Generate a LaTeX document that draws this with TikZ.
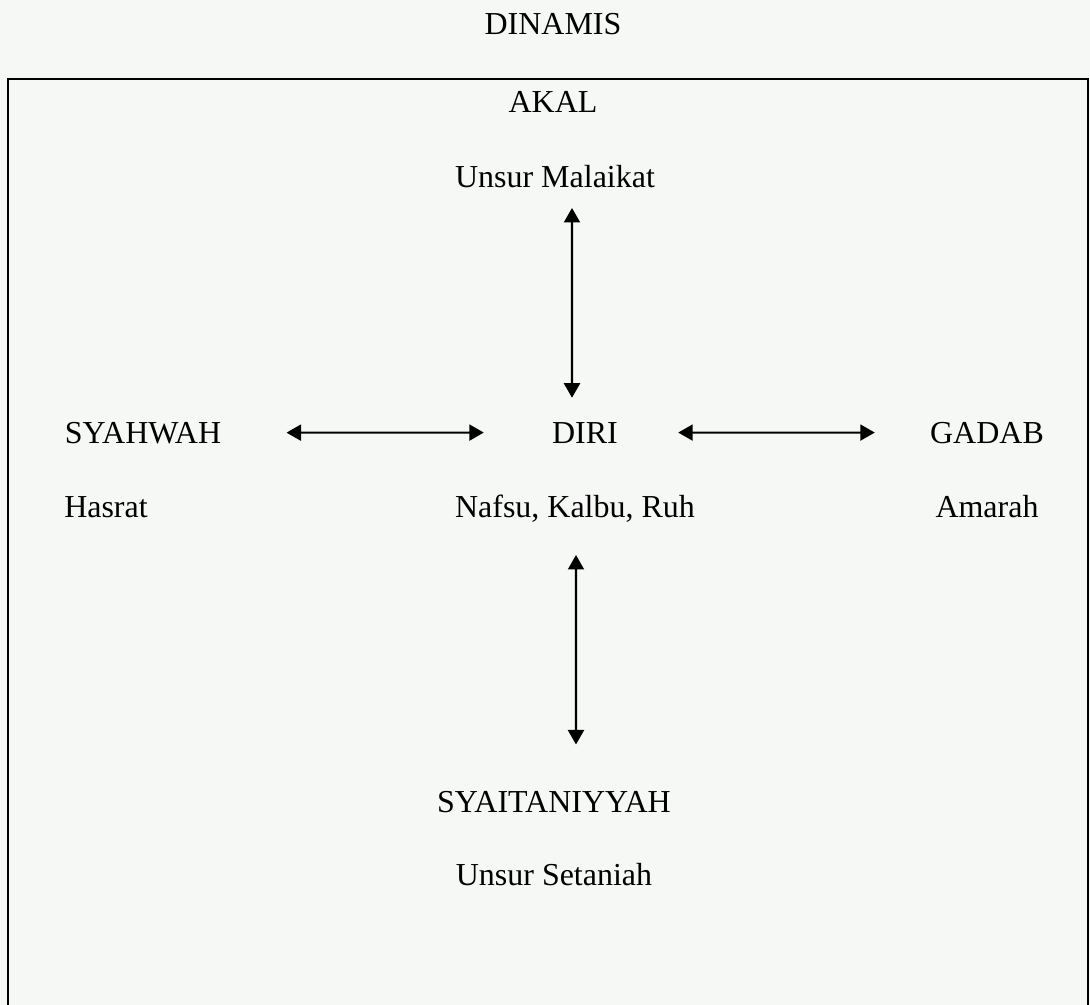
\documentclass[tikz,border=0pt]{standalone}
\usepackage{fontspec}
\setmainfont{Liberation Serif}
\usetikzlibrary{calc, arrows.meta}
\definecolor{paper}{RGB}{246,248,246}

\begin{document}
\begin{tikzpicture}[x=0.02cm,y=-0.02cm,
    lbl/.style={inner sep=0pt,anchor=base,font=\fontsize{18.2}{22}\selectfont},
    dbl/.style={{Triangle[length=0.29cm,width=0.32cm]}-{Triangle[length=0.29cm,width=0.32cm]},line width=1.2pt}]
    \fill[paper] (0,0) rectangle (1090,1005);
    \useasboundingbox (0,0) rectangle (1090,1005);
    \draw[line width=1.2pt] (8,1005)--(8,79)--(1088,79)--(1088,1005);
    \node[lbl] (dinamis) at (553,34) {DINAMIS};
    \node[lbl] (akal) at (553,112) {AKAL};
    \node[lbl] (malaikat) at (555,187) {Unsur Malaikat};
    \node[lbl] (syahwah) at (143,443) {SYAHWAH};
    \node[lbl] (diri) at (585,443) {DIRI};
    \node[lbl] (gadab) at (987,443) {GADAB};
    \node[lbl] (hasrat) at (106,517) {Hasrat};
    \node[lbl] (nafsu) at (575,517) {Nafsu, Kalbu, Ruh};
    \node[lbl] (amarah) at (987,517) {Amarah};
    \node[lbl] (syaitan) at (554,812) {SYAITANIYYAH};
    \node[lbl] (setaniah) at (554,885) {Unsur Setaniah};
    \draw[dbl,shorten <=0.42cm,shorten >=0.48cm] ([xshift=0.34cm]malaikat.base)--([xshift=-0.26cm]diri.north);
    \draw[dbl,shorten <=1.3cm,shorten >=1.36cm] (syahwah.east)--(diri.west);
    \draw[dbl,shorten <=1.2cm,shorten >=1.1cm] (diri.east)--(gadab.west);
    \draw[dbl,shorten <=0.76cm,shorten >=0.92cm] ([xshift=0.02cm]nafsu.base)--([xshift=0.44cm]syaitan.north);
\end{tikzpicture}
\end{document}
